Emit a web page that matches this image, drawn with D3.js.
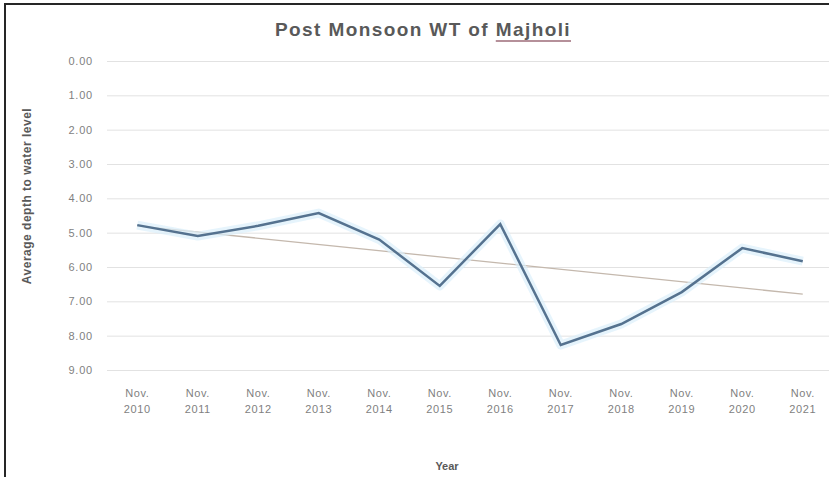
<!DOCTYPE html>
<html>
<head>
<meta charset="utf-8">
<script src="https://cdn.jsdelivr.net/npm/d3@7"></script>
<style>
  body { margin: 0; background: #fff; }
  svg { display: block; }
</style>
</head>
<body>
<div id="chart"></div>
<script>
// data
const years = ["2010", "2011", "2012", "2013", "2014", "2015", "2016", "2017", "2018", "2019", "2020", "2021"];
const depth = [4.78, 5.10, 4.80, 4.43, 5.20, 6.55, 4.75, 8.27, 7.66, 6.73, 5.45, 5.83];
const yTicks = [0, 1, 2, 3, 4, 5, 6, 7, 8, 9];

const width = 829;
const height = 477;
const marginTop = 61;
const marginBottom = 107;
const marginLeft = 107;
const plotRight = 833;

const font = "'Liberation Sans', Arial, sans-serif";

const svg = d3.select("#chart")
    .append("svg")
    .attr("width", width)
    .attr("height", height);

// chart frame (partly cropped like the reference)
svg.append("rect")
    .attr("x", 5)
    .attr("y", 4)
    .attr("width", width + 20)
    .attr("height", height + 20)
    .attr("fill", "#fff")
    .attr("stroke", "#262626")
    .attr("stroke-width", 2);

const x = d3.scalePoint()
    .domain(years)
    .range([marginLeft, plotRight])
    .padding(0.5);

const y = d3.scaleLinear()
    .domain([0, 9])
    .range([marginTop, height - marginBottom]);

// horizontal grid
svg.append("g")
    .attr("class", "grid")
    .attr("transform", `translate(${marginLeft},0)`)
    .call(d3.axisLeft(y).tickValues(yTicks).tickSize(-(plotRight - marginLeft)).tickFormat(""))
    .call((g) => g.select(".domain").remove())
    .call((g) => g.selectAll(".tick line").attr("stroke", "#e2e2e2").attr("stroke-width", 1));

// y tick labels
svg.append("g")
    .attr("transform", `translate(${marginLeft},0)`)
    .call(d3.axisLeft(y).tickValues(yTicks).tickSize(0).tickPadding(14).tickFormat(d3.format(".2f")))
    .call((g) => g.select(".domain").remove())
    .call((g) => g.selectAll("text")
        .attr("fill", "#7f7f7f")
        .style("font-family", font)
        .style("font-size", "11px")
        .style("letter-spacing", "0.8px"));

// x tick labels, two lines
const xAxis = svg.append("g")
    .attr("transform", `translate(0,${height - marginBottom})`);
xAxis.selectAll("text")
    .data(years)
    .enter()
    .append("text")
    .attr("x", (d) => x(d))
    .attr("y", 27)
    .attr("text-anchor", "middle")
    .attr("fill", "#7f7f7f")
    .style("font-family", font)
    .style("font-size", "11px")
    .style("letter-spacing", "0.6px")
    .call((t) => {
        t.append("tspan").attr("x", (d) => x(d)).text("Nov.");
        t.append("tspan").attr("x", (d) => x(d)).attr("dy", 16).text((d) => d);
    });

// linear trendline (least squares)
const idx = years.map((_, i) => i);
const mx = d3.mean(idx);
const my = d3.mean(depth);
const slope = d3.sum(idx, (i) => (i - mx) * (depth[i] - my)) / d3.sum(idx, (i) => (i - mx) * (i - mx));
const icpt = my - slope * mx;
const trend = [0, years.length - 1].map((i) => [years[i], icpt + slope * i]);

svg.append("path")
    .datum(trend)
    .attr("fill", "none")
    .attr("stroke", "#c4b8ad")
    .attr("stroke-width", 1.3)
    .attr("d", d3.line().x((d) => x(d[0])).y((d) => y(d[1])));

// series line with soft glow
const line = d3.line()
    .x((d, i) => x(years[i]))
    .y((d) => y(d));

svg.append("path")
    .datum(depth)
    .attr("fill", "none")
    .attr("stroke", "#dceffb")
    .attr("stroke-width", 9)
    .attr("stroke-linejoin", "round")
    .attr("opacity", 0.7)
    .attr("d", line);

svg.append("path")
    .datum(depth)
    .attr("fill", "none")
    .attr("stroke", "#55728f")
    .attr("stroke-width", 2.5)
    .attr("d", line);

// title
const title = svg.append("text")
    .attr("x", 423)
    .attr("y", 36)
    .attr("text-anchor", "middle")
    .attr("fill", "#595959")
    .style("font-family", font)
    .style("font-size", "19px")
    .style("font-weight", "bold")
    .style("letter-spacing", "1.4px");
title.append("tspan").text("Post Monsoon WT of ");
const maj = title.append("tspan").text("Majholi");
const mb = maj.node().getBBox();
svg.append("line")
    .attr("x1", mb.x)
    .attr("x2", mb.x + mb.width)
    .attr("y1", 41)
    .attr("y2", 41)
    .attr("stroke", "#9c6b78")
    .attr("stroke-width", 1.5);

// axis titles
svg.append("text")
    .attr("transform", "translate(31,196) rotate(-90)")
    .attr("text-anchor", "middle")
    .attr("fill", "#595959")
    .style("font-family", font)
    .style("font-size", "12px")
    .style("font-weight", "bold")
    .style("letter-spacing", "0.5px")
    .text("Average depth to water level");

svg.append("text")
    .attr("x", 447)
    .attr("y", 470)
    .attr("text-anchor", "middle")
    .attr("fill", "#595959")
    .style("font-family", font)
    .style("font-size", "11px")
    .style("font-weight", "bold")
    .text("Year");
</script>
</body>
</html>
